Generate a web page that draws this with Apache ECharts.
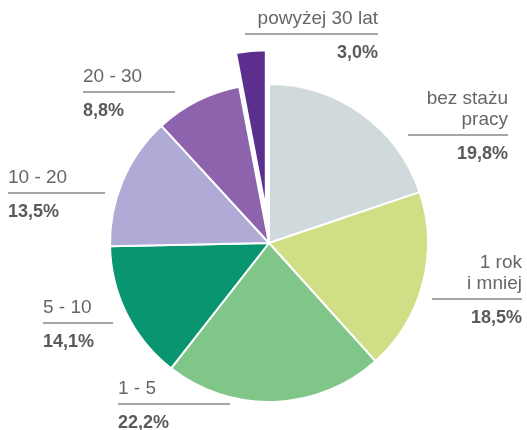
<!DOCTYPE html>
<html>
<head>
<meta charset="utf-8">
<script src="https://cdn.jsdelivr.net/npm/echarts@6/dist/echarts.min.js"></script>
<style>
  html, body { margin: 0; padding: 0; background: #fff; }
  #chart { width: 527px; height: 430px; }
</style>
</head>
<body>
<div id="chart"></div>
<script>
// staż pracy - udział procentowy
var names = ['bez stażu\npracy', '1 rok\ni mniej', '1 - 5', '5 - 10', '10 - 20', '20 - 30', 'powyżej 30 lat'];
var values = [19.8, 18.5, 22.2, 14.1, 13.5, 8.8, 3.0];
var colors = ['#d0d9dc', '#d0df85', '#80c689', '#0a9571', '#b0aad6', '#8e63ad', '#5c2f8f'];
var pulled = 6; // wysunięty wycinek

// gdzie stoją podpisy (x, y, wyrównanie, szerokość kreski)
var labelPos = [
  { x: 508, y: 88, align: 'right', w: 100 },
  { x: 522, y: 252, align: 'right', w: 90 },
  { x: 118, y: 378, align: 'left', w: 112 },
  { x: 43, y: 297, align: 'left', w: 70 },
  { x: 8, y: 167, align: 'left', w: 97 },
  { x: 83, y: 66, align: 'left', w: 92 },
  { x: 378, y: 8, align: 'right', w: 133 }
];

var cx = 269, cy = 243, r = 159, offset = 34;

// kąt środka wysuniętego wycinka -> przesunięcie środka drugiej serii
var total = values.reduce(function (a, b) { return a + b; }, 0);
var before = 0;
for (var k = 0; k < pulled; k++) before += values[k];
var mid = (before + values[pulled] / 2) / total * 2 * Math.PI;
var cx2 = cx + offset * Math.sin(mid);
var cy2 = cy - offset * Math.cos(mid);

var font = 'Liberation Sans, Arial, sans-serif';

var mainData = [];
var pulledData = [];
for (var i = 0; i < names.length; i++) {
  mainData.push({
    name: names[i],
    value: values[i],
    itemStyle: i === pulled ? { color: 'transparent', borderWidth: 0 } : { color: colors[i] },
    label: { width: labelPos[i].w, align: labelPos[i].align }
  });
  pulledData.push({
    name: names[i],
    value: values[i],
    itemStyle: i === pulled ? { color: colors[i] } : { color: 'transparent', borderWidth: 0 }
  });
}

var myChart = echarts.init(document.getElementById('chart'));
var option = {
  backgroundColor: '#fff',
  animation: false,
  series: [
    {
      type: 'pie',
      center: [cx, cy],
      radius: [0, r],
      startAngle: 90,
      clockwise: true,
      avoidLabelOverlap: false,
      silent: true,
      itemStyle: { borderColor: '#fff', borderWidth: 2 },
      labelLine: { show: false },
      label: {
        show: true,
        position: 'outside',
        fontFamily: font,
        formatter: function (p) {
          var pct = p.value.toFixed(1).replace('.', ',') + '%';
          var lines = p.name.split('\n').map(function (s) { return '{n|' + s + '}'; });
          return lines.join('\n') + '\n{hr|}\n{p|' + pct + '}';
        },
        rich: {
          n: { fontSize: 19, color: '#666', lineHeight: 21, fontFamily: font },
          hr: { width: '100%', height: 0, lineHeight: 10, borderColor: '#808080', borderWidth: 0.9 },
          p: { fontSize: 18, fontWeight: 'bold', color: '#5a5a5a', lineHeight: 28, fontFamily: font }
        }
      },
      labelLayout: function (params) {
        var lp = labelPos[params.dataIndex];
        return { x: lp.x, y: lp.y, align: lp.align, verticalAlign: 'top' };
      },
      data: mainData
    },
    {
      type: 'pie',
      center: [cx2, cy2],
      radius: [0, r],
      startAngle: 90,
      clockwise: true,
      silent: true,
      itemStyle: { borderColor: '#fff', borderWidth: 2 },
      label: { show: false },
      labelLine: { show: false },
      data: pulledData
    }
  ]
};
myChart.setOption(option);
</script>
</body>
</html>
